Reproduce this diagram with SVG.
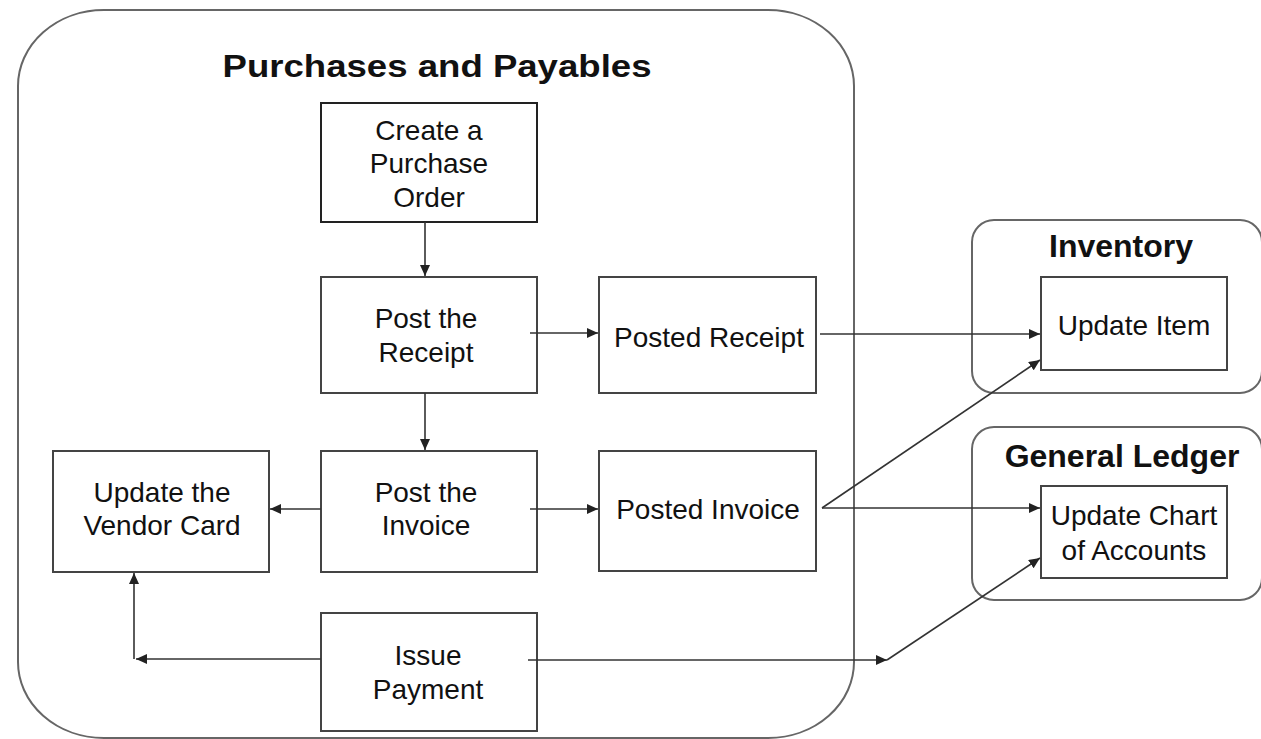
<svg xmlns="http://www.w3.org/2000/svg" width="1261" height="739" viewBox="0 0 1261 739">
  <style>
    .container { fill: none; stroke: #666; stroke-width: 2; }
    .box { fill: #fff; stroke: #444; stroke-width: 2; }
    .label { font-family: "Liberation Sans", Arial, sans-serif; font-size: 28px; fill: #111; text-anchor: middle; }
    .title { font-family: "Liberation Sans", Arial, sans-serif; font-size: 32px; font-weight: bold; fill: #111; text-anchor: middle; }
    .conn { fill: none; stroke: #333; stroke-width: 1.6; }
  </style>
  <defs>
    <marker id="arrow" markerUnits="userSpaceOnUse" markerWidth="12" markerHeight="10" refX="11" refY="5" orient="auto">
      <path d="M0,0 L11,5 L0,10 Z" fill="#222"/>
    </marker>
  </defs>
  <rect width="1261" height="739" fill="#fff"/>

  <g id="purchases-and-payables">
    <rect class="container" x="18" y="10" width="836" height="728" rx="86" ry="76"/>
    <text class="title" x="437" y="77" textLength="429" lengthAdjust="spacingAndGlyphs">Purchases and Payables</text>
  </g>
  <g id="inventory">
    <rect class="container" x="972" y="220" width="290" height="173" rx="22"/>
    <text class="title" x="1121" y="257">Inventory</text>
  </g>
  <g id="general-ledger">
    <rect class="container" x="972" y="427" width="290" height="173" rx="22"/>
    <text class="title" x="1122" y="467">General Ledger</text>
  </g>

  <g id="create-po">
    <rect class="box" x="321" y="103" width="216" height="119" style="stroke:#222"/>
    <text class="label" x="429" y="140">Create a</text>
    <text class="label" x="429" y="173">Purchase</text>
    <text class="label" x="429" y="207">Order</text>
  </g>
  <g id="post-receipt">
    <rect class="box" x="321" y="277" width="216" height="116"/>
    <text class="label" x="426" y="328">Post the</text>
    <text class="label" x="426" y="362">Receipt</text>
  </g>
  <g id="posted-receipt">
    <rect class="box" x="599" y="277" width="217" height="116"/>
    <text class="label" x="709" y="347">Posted Receipt</text>
  </g>
  <g id="post-invoice">
    <rect class="box" x="321" y="451" width="216" height="121"/>
    <text class="label" x="426" y="502">Post the</text>
    <text class="label" x="426" y="535">Invoice</text>
  </g>
  <g id="posted-invoice">
    <rect class="box" x="599" y="451" width="217" height="120"/>
    <text class="label" x="708" y="519">Posted Invoice</text>
  </g>
  <g id="vendor-card">
    <rect class="box" x="53" y="451" width="216" height="121"/>
    <text class="label" x="162" y="502">Update the</text>
    <text class="label" x="162" y="535">Vendor Card</text>
  </g>
  <g id="issue-payment">
    <rect class="box" x="321" y="613" width="216" height="118"/>
    <text class="label" x="428" y="665">Issue</text>
    <text class="label" x="428" y="699">Payment</text>
  </g>
  <g id="update-item">
    <rect class="box" x="1041" y="277" width="186" height="93"/>
    <text class="label" x="1134" y="335">Update Item</text>
  </g>
  <g id="update-chart">
    <rect class="box" x="1041" y="486" width="186" height="92"/>
    <text class="label" x="1134" y="525">Update Chart</text>
    <text class="label" x="1134" y="560">of Accounts</text>
  </g>

  <g id="connectors">
    <path class="conn" d="M425,222 V276" marker-end="url(#arrow)"/>
    <path class="conn" d="M530,333 H598" marker-end="url(#arrow)"/>
    <path class="conn" d="M425,393 V450" marker-end="url(#arrow)"/>
    <path class="conn" d="M321,509 H270" marker-end="url(#arrow)"/>
    <path class="conn" d="M530,509 H598" marker-end="url(#arrow)"/>
    <path class="conn" d="M820,334 H1040" marker-end="url(#arrow)"/>
    <path class="conn" d="M822,508 L1040,360" marker-end="url(#arrow)"/>
    <path class="conn" d="M822,508 H1040" marker-end="url(#arrow)"/>
    <path class="conn" d="M321,659 H136" marker-end="url(#arrow)"/>
    <path class="conn" d="M134,659 V573" marker-end="url(#arrow)"/>
    <path class="conn" d="M528,660 H887" marker-end="url(#arrow)"/>
    <path class="conn" d="M887,660 L1040,558" marker-end="url(#arrow)"/>
  </g>
</svg>
